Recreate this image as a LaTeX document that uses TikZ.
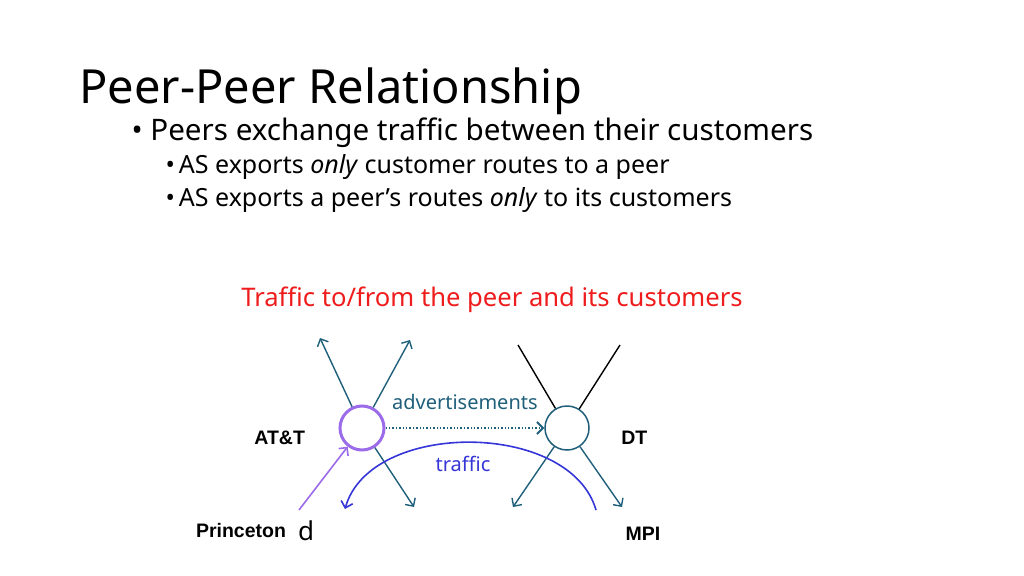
\documentclass[tikz,border=0pt]{standalone}
\usepackage{fontspec}
\setmainfont{Noto Sans}
\newfontfamily\lblfont{Liberation Sans}
\usetikzlibrary{arrows.meta,positioning,calc}
\definecolor{teal}{HTML}{1F5F7A}
\definecolor{lilac}{HTML}{9B6BEA}
\definecolor{trafblue}{HTML}{3535D8}
\definecolor{peerred}{HTML}{EE1C1C}
\tikzset{
  as/.style={circle,draw,minimum size=44pt,inner sep=0pt,line width=1.5pt},
  route/.style={-{Straight Barb[length=6pt,width=12pt]},teal,line width=1.4pt},
  lbl/.style={font=\fontsize{19.5}{22}\lblfont\bfseries}
}
\begin{document}
\begin{tikzpicture}[x=1pt,y=-1pt]
    \useasboundingbox (0,0) rectangle (1024,575);
    \node[anchor=base west,font=\fontsize{47}{56}\selectfont] (title) at (76,103) {Peer-Peer Relationship};
    \node[anchor=base west,font=\fontsize{29.6}{34}\selectfont] (b1) at (128,140) {• Peers exchange traffic between their customers};
    \node[anchor=base west,font=\fontsize{25}{28}\selectfont] (b2) at (162,173) {•\hspace{4pt}AS exports \textit{only} customer routes to a peer};
    \node[anchor=base west,font=\fontsize{25}{28}\selectfont] (b3) at (162,206) {•\hspace{4pt}AS exports a peer’s routes \textit{only} to its customers};
    \node[text=peerred,font=\fontsize{25.6}{30}\selectfont] (note) at (492,300) {Traffic to/from the peer and its customers};
    \node[as,draw=lilac,line width=3pt] (att) at (362,428) {};
    \node[as,draw=teal] (dt) at (567,428) {};
    \node[lbl,left=30pt of att,yshift=-10pt] (attl) {AT\&T};
    \node[lbl,right=28pt of dt,yshift=-10pt] (dtl) {DT};
    \node[lbl,anchor=base] (pl) at (241,537) {Princeton};
    \node[anchor=base,font=\fontsize{26}{30}\selectfont] (d) at (306,540) {d};
    \node[lbl,anchor=base] (mpi) at (643,540) {MPI};
    \coordinate (a1) at (320,338);
    \coordinate (a2) at (410,340);
    \coordinate (a3) at (414,507);
    \coordinate (d1) at (513,507);
    \coordinate (d2) at (622,507);
    \coordinate (k1) at (518,345);
    \coordinate (k2) at (620,345);
    \coordinate (src) at (299,510);
    \coordinate (tin) at (596,510);
    \coordinate (tout) at (345,509);
    \draw[route] (att) -- (a1);
    \draw[route] (att) -- (a2);
    \draw[route] (att) -- (a3);
    \draw[route] (dt) -- (d1);
    \draw[route] (dt) -- (d2);
    \draw[line width=1.4pt] (dt) -- (k1);
    \draw[line width=1.4pt] (dt) -- (k2);
    \draw[route,dotted,line width=1.8pt] (att) -- node[above=14pt,solid,font=\fontsize{20}{24}\selectfont] {advertisements} (dt);
    \draw[-{Straight Barb[length=6pt,width=12pt]},lilac,line width=1.6pt] (src) -- (att);
    \draw[-{Straight Barb[length=6pt,width=12pt]},trafblue,line width=1.6pt] (tin) .. controls (570,420) and (370,420) .. (tout);
    \node[text=trafblue,font=\fontsize{20}{24}\selectfont] (tl) at (463,464) {traffic};
\end{tikzpicture}
\end{document}
